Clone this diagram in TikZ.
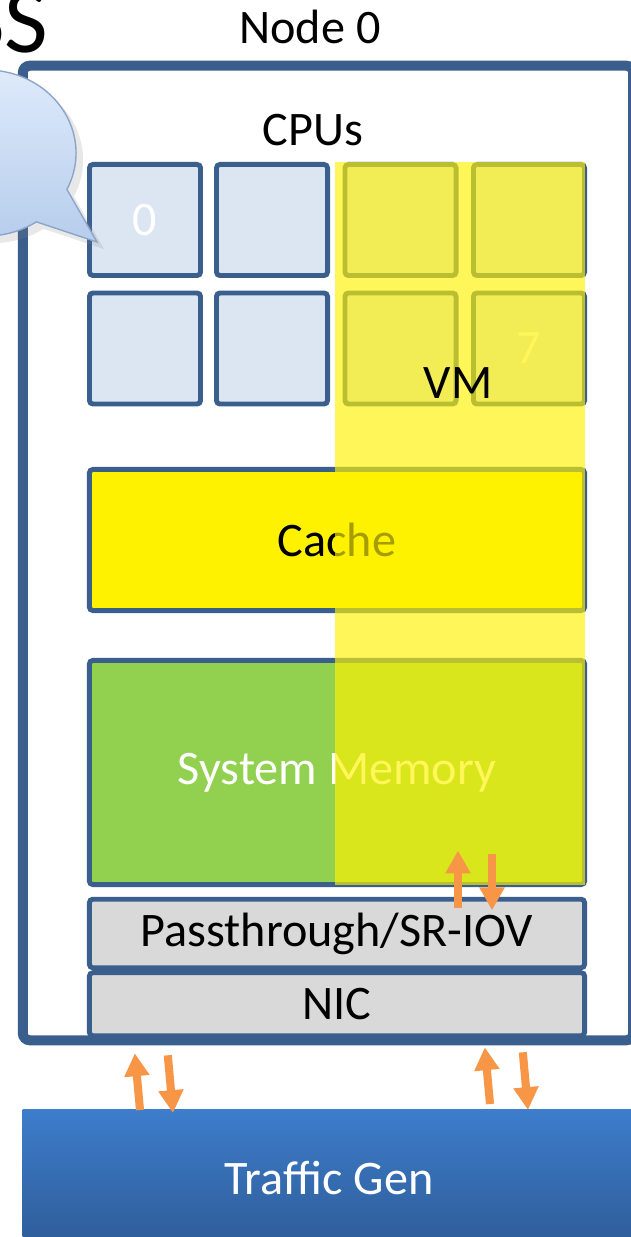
\documentclass[tikz,border=0pt]{standalone}
\usepackage{fontspec}
\setmainfont{Carlito}
\usepackage{xcolor}
\usetikzlibrary{arrows.meta,shapes.callouts,shadows,calc}
\definecolor{frame-blue}{RGB}{59,95,141}
\definecolor{cpu-blue}{RGB}{220,230,242}
\definecolor{mem-green}{RGB}{146,208,80}
\definecolor{nic-gray}{RGB}{217,217,217}
\definecolor{flow-orange}{RGB}{247,150,70}
\definecolor{gen-top}{RGB}{61,125,203}
\definecolor{gen-bottom}{RGB}{46,92,152}
\definecolor{bubble-top}{RGB}{222,234,251}
\definecolor{bubble-bottom}{RGB}{182,205,236}
\definecolor{bubble-edge}{RGB}{140,165,200}
\tikzstyle{txt}=[font=\fontsize{13.7}{16}\selectfont]
\tikzstyle{unit}=[draw=frame-blue, line width=1.4pt, rounded corners=1pt, inner sep=0pt, txt]
\tikzstyle{cpu}=[unit, fill=cpu-blue, minimum width=1.11cm, minimum height=1.11cm, text=white]
\tikzstyle{block}=[unit, minimum width=4.95cm]
\tikzstyle{vmshade}=[fill=yellow, fill opacity=0.65]
\tikzstyle{flow}=[flow-orange, line width=2.3pt, -{Triangle[width=6.8pt,length=6.5pt]}]

\begin{document}
\begin{tikzpicture}[x=0.01cm, y=-0.01cm]
	\useasboundingbox (0,0) rectangle (631,1237);
	\fill[white] (0,0) rectangle (631,1237);
	% host
	\node[txt] (title) at (310,27) {Node 0};
	\node[draw=frame-blue, line width=2.85pt, rounded corners=2pt, minimum width=6.1cm, minimum height=9.74cm] (node0) at (328,553) {};
	\node[txt] (cpus) at (313,130) {CPUs};
	\foreach \i/\x/\y in {0/145/220, 1/272/220, 2/400.5/220, 3/529/220, 4/145/348.5, 5/272/348.5, 6/400.5/348.5, 7/529/348.5}
		\node[cpu] (c\i) at (\x,\y) {};
	\node[txt, text=white] (n0) at (c0) {0};
	\node[txt, text=white] (n7) at (c7) {7};
	\node[block, fill=yellow, minimum height=1.41cm] (cache) at (337,540) {Cache};
	\node[block, fill=mem-green, minimum height=2.24cm, text=white] (mem) at (337,772.5) {System Memory};
	\node[block, fill=nic-gray, minimum height=0.685cm] (pass) at (337,933.5) {Passthrough/SR-IOV};
	\node[block, fill=nic-gray, minimum height=0.63cm, anchor=north] (nic) at (pass.south) {NIC};
	% guest
	\fill[vmshade] (335,162) rectangle (585,885);
	\node[txt] (vm) at (458,383) {VM};
	\node[ellipse callout, draw=bubble-edge, thin, top color=bubble-top, bottom color=bubble-bottom, minimum width=1.8cm, minimum height=1.66cm, callout absolute pointer={(97,242)}, callout pointer arc=30, drop shadow={opacity=0.18, shadow xshift=2pt, shadow yshift=-2pt}] (bubble) at (-14,153) {};
	\node[font=\fontsize{27}{30}\selectfont, anchor=base east, inner sep=0pt] (head) at (49,53) {SS};
	% generator
	\node[txt, text=white, top color=gen-top, bottom color=gen-bottom, minimum width=6.12cm, minimum height=1.36cm, anchor=north west] (gen) at (22,1109) {Traffic Gen};
	\draw[flow] ($(gen.north west)+(118,1)$) -- ($(node0.south west)+(117,8)$);
	\draw[flow] ($(node0.south west)+(150,10)$) -- ($(gen.north west)+(151,4)$);
	\draw[flow] ($(gen.north west)+(468,-5)$) -- ($(node0.south west)+(467,2)$);
	\draw[flow] ($(node0.south west)+(505,7)$) -- ($(gen.north west)+(506,1)$);
	\draw[flow] ($(pass.north)+(121,11.5)$) -- ($(mem.south)+(121,-36.5)$);
	\draw[flow] ($(mem.south)+(155,-33.5)$) -- ($(pass.north)+(155,13.5)$);
\end{tikzpicture}
\end{document}
